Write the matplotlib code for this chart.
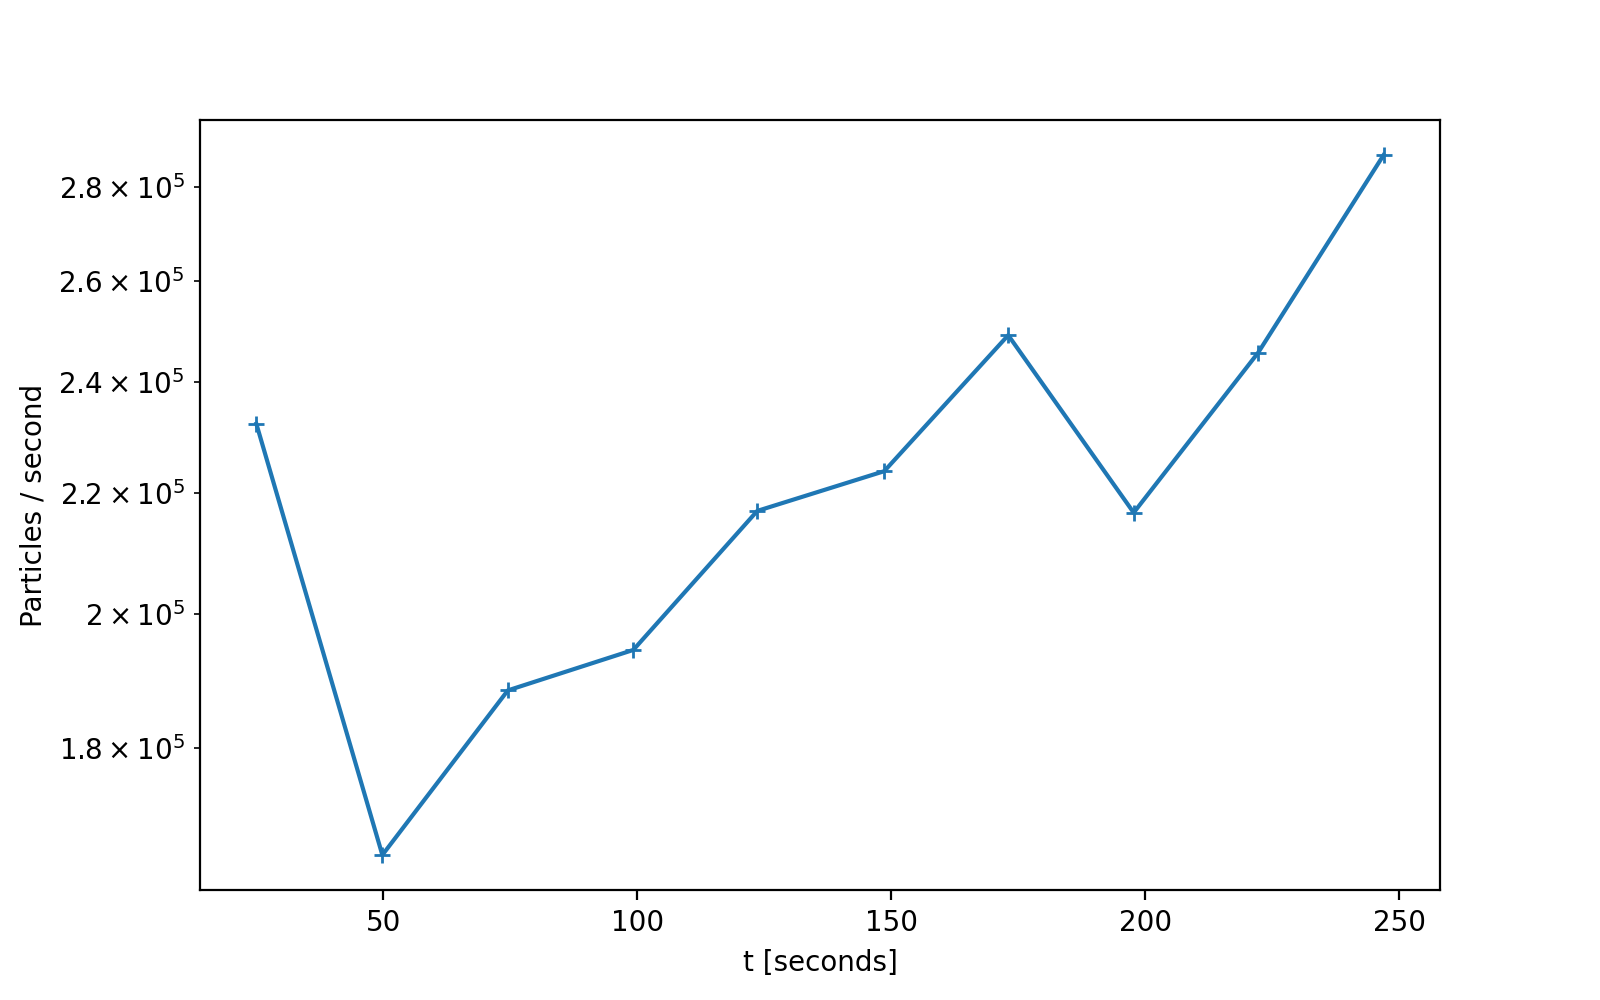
import matplotlib
matplotlib.use("Agg")
import matplotlib.pyplot as plt

# time stamps [s] and throughput values
t_seconds = [25.0, 49.8, 74.5, 99.2, 123.6, 148.6, 173.0, 197.7, 222.2, 246.9]
rate = [2.323e5, 1.654e5, 1.883e5, 1.944e5, 2.169e5, 2.238e5, 2.491e5, 2.166e5, 2.457e5, 2.871e5]

fig, ax = plt.subplots(figsize=(8, 5), dpi=200)
ax.plot(t_seconds, rate, marker="+", linestyle="-")
ax.set_yscale("log")
ax.set_xlabel("t [seconds]")
ax.set_ylabel("Particles / second")
fig.savefig("out.png")
